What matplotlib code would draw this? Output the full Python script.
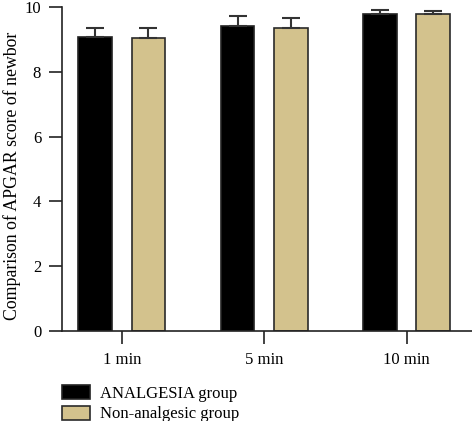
import matplotlib
matplotlib.use("Agg")
import matplotlib.pyplot as plt
import numpy as np
from matplotlib.patches import Patch

categories = ["1 min", "5 min", "10 min"]
analgesia = [9.07, 9.41, 9.78]
analgesia_err = [0.28, 0.31, 0.13]
nonanalgesic = [9.04, 9.35, 9.78]
nonanalgesic_err = [0.31, 0.31, 0.10]
series_names = ["ANALGESIA group", "Non-analgesic group"]

plt.rcParams['font.family'] = ['Liberation Serif', 'DejaVu Serif']

fig = plt.figure(figsize=(4.72, 4.21), dpi=100)
ax = fig.add_axes([62/472, 1 - 331/421, 410/472, 324/421])

x = np.arange(len(categories))
w = 0.235
off = 0.187
tan = '#D3C28D'
ax.bar(x - off, analgesia, w, color='black', edgecolor='#222222', linewidth=1.2,
       yerr=[np.zeros(3), analgesia_err], error_kw=dict(ecolor='#333333', elinewidth=1.5, capsize=6.5, capthick=1.5))
ax.bar(x + off, nonanalgesic, w, color=tan, edgecolor='#2a2a2a', linewidth=1.2,
       yerr=[np.zeros(3), nonanalgesic_err], error_kw=dict(ecolor='#333333', elinewidth=1.5, capsize=6.5, capthick=1.5))

ax.set_xlim(-0.42, 2.46)
ax.set_ylim(0, 10)
ax.set_yticks([0, 2, 4, 6, 8, 10])
ax.set_xticks(x)
ax.set_xticklabels(categories)
for s in ['top', 'right']:
    ax.spines[s].set_visible(False)
for s in ['left', 'bottom']:
    ax.spines[s].set_linewidth(1.2)
    ax.spines[s].set_color('#222222')
ax.tick_params(axis='both', length=9.5, width=1.2, color='#222222', labelsize=12, pad=5.5)
fig.text(12/472, 1 - 176/421, "Comparison of APGAR score of newbor", rotation=90,
         ha='center', va='center', fontsize=12.8)

handles = [Patch(facecolor='black', edgecolor='#222222', linewidth=1.2),
           Patch(facecolor=tan, edgecolor='#2a2a2a', linewidth=1.2)]
fig.legend(handles, series_names, loc='upper left', bbox_to_anchor=(62/472, 1 - 385/421),
           frameon=False, fontsize=12, handlelength=1.65, handleheight=0.9,
           handletextpad=0.65, labelspacing=0.25, borderaxespad=0, borderpad=0)

fig.savefig("out.png", dpi=100)
